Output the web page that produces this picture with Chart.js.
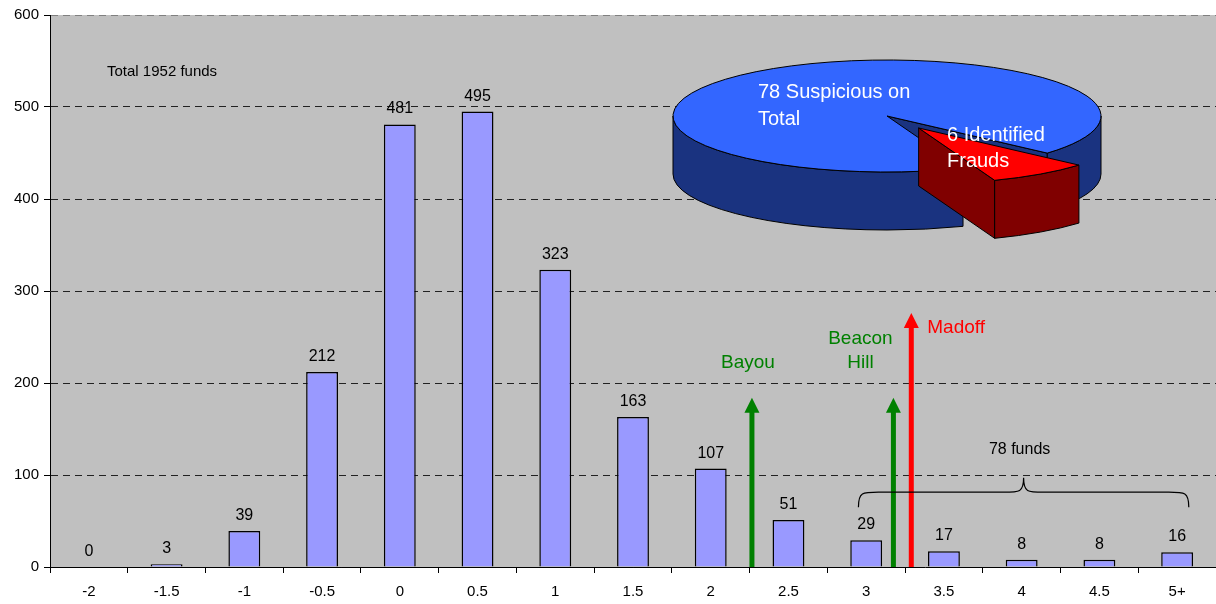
<!DOCTYPE html>
<html>
<head>
<meta charset="utf-8">
<script src="https://cdn.jsdelivr.net/npm/chart.js@4.4.0/dist/chart.umd.min.js"></script>
<style>
  body { margin: 0; background: #fff; }
  #wrap { width: 1216px; height: 604px; }
</style>
</head>
<body>
<div id="wrap"><canvas id="fund_chart"></canvas></div>
<script>
const categories = ['-2', '-1.5', '-1', '-0.5', '0', '0.5', '1', '1.5', '2', '2.5', '3', '3.5', '4', '4.5', '5+'];
const fundCounts = [0, 3, 39, 212, 481, 495, 323, 163, 107, 51, 29, 17, 8, 8, 16];
const yTicks = [0, 100, 200, 300, 400, 500, 600];

const pieLabels = [['78 Suspicious on', 'Total'], ['6 Identified', 'Frauds']];
const pieValues = [72, 6];

const arrowNames = [['Bayou'], ['Beacon', 'Hill'], ['Madoff']];
const arrowIndex = [8.53, 10.35, 10.58];
const arrowValue = [184, 184, 276];
const arrowColors = ['#008000', '#008000', '#ff0000'];

const braceRange = [9.9, 14.15];
const braceValue = [65, 97];
const braceLabel = '78 funds';
const totalLabel = 'Total 1952 funds';

const FONT = '"Liberation Sans", Arial, sans-serif';

// grey plot area
const plotBackground = {
  id: 'plotBackground',
  beforeDraw(chart) {
    let a = chart.chartArea, ctx = chart.ctx;
    ctx.save();
    ctx.fillStyle = '#c0c0c0';
    ctx.fillRect(a.left, a.top, a.right - a.left, a.bottom - a.top);
    ctx.restore();
  }
};

const valueLabels = {
  id: 'valueLabels',
  afterDatasetsDraw(chart) {
    let ctx = chart.ctx;
    let meta = chart.getDatasetMeta(0);
    ctx.save();
    ctx.font = '16px ' + FONT;
    ctx.fillStyle = '#000';
    ctx.textAlign = 'center';
    ctx.textBaseline = 'alphabetic';
    meta.data.forEach((bar, i) => {
      ctx.fillText(String(fundCounts[i]), bar.x, bar.y - 11);
    });
    ctx.restore();
  }
};

function drawArrow(ctx, x, yBase, yTip, color) {
  ctx.fillStyle = color;
  ctx.fillRect(x - 2.5, yTip + 12, 5, yBase - yTip - 12);
  ctx.beginPath();
  ctx.moveTo(x, yTip);
  ctx.lineTo(x + 7.5, yTip + 15);
  ctx.lineTo(x - 7.5, yTip + 15);
  ctx.closePath();
  ctx.fill();
}

const annotations = {
  id: 'annotations',
  afterDatasetsDraw(chart) {
    let ctx = chart.ctx;
    let xs = chart.scales.x, ys = chart.scales.y;
    ctx.save();

    ctx.font = '15px ' + FONT;
    ctx.fillStyle = '#000';
    ctx.textAlign = 'left';
    ctx.fillText(totalLabel, chart.chartArea.left + 57, 76);

    // arrows and their names
    let labelPos = [
      { dx: -4, dy: -30, align: 'center' },
      { dx: -33, dy: -30, align: 'center' },
      { dx: 16, dy: 20, align: 'left' }
    ];
    arrowIndex.forEach((idx, i) => {
      let x = xs.getPixelForValue(idx);
      let yTip = ys.getPixelForValue(arrowValue[i]);
      drawArrow(ctx, x, ys.getPixelForValue(0), yTip, arrowColors[i]);
      ctx.font = '19px ' + FONT;
      ctx.fillStyle = arrowColors[i];
      ctx.textAlign = labelPos[i].align;
      let lines = arrowNames[i];
      lines.forEach((t, k) => {
        let y = yTip + labelPos[i].dy - (lines.length - 1 - k) * 24;
        ctx.fillText(t, x + labelPos[i].dx, y);
      });
    });

    // brace over the right tail
    let x1 = xs.getPixelForValue(braceRange[0]);
    let x2 = xs.getPixelForValue(braceRange[1]);
    let xm = (x1 + x2) / 2;
    let yEnd = ys.getPixelForValue(braceValue[0]);
    let yTop = ys.getPixelForValue(braceValue[1]);
    let yMid = yEnd - 15;
    ctx.strokeStyle = '#000';
    ctx.lineWidth = 1.2;
    ctx.beginPath();
    ctx.moveTo(x1, yEnd);
    ctx.bezierCurveTo(x1, yMid, x1 + 4, yMid, x1 + 20, yMid);
    ctx.lineTo(xm - 20, yMid);
    ctx.bezierCurveTo(xm - 4, yMid, xm, yMid, xm, yTop);
    ctx.bezierCurveTo(xm, yMid, xm + 4, yMid, xm + 20, yMid);
    ctx.lineTo(x2 - 20, yMid);
    ctx.bezierCurveTo(x2 - 4, yMid, x2, yMid, x2, yEnd);
    ctx.stroke();
    ctx.font = '16px ' + FONT;
    ctx.fillStyle = '#000';
    ctx.textAlign = 'center';
    ctx.fillText(braceLabel, xm - 4, yTop - 24);

    ctx.restore();
  }
};

// 3d pie drawn on top of the bars
const pie = { cx: 887, cy: 116, rx: 214, ry: 56, depth: 58, start: 41.5 * Math.PI / 180 };

function drawSlice(ctx, a0, a1, ox, oy, topColor, sideColor) {
  let cx = pie.cx + ox, cy = pie.cy + oy, d = pie.depth;
  let rim = a => [cx + pie.rx * Math.cos(a), cy + pie.ry * Math.sin(a)];
  ctx.lineWidth = 1;
  ctx.strokeStyle = '#000';
  ctx.lineJoin = 'round';

  // cut faces turned towards the viewer
  [[a0, Math.cos(a0) < 0], [a1, Math.cos(a1) > 0]].forEach(([a, vis]) => {
    if (!vis) return;
    let p = rim(a);
    ctx.beginPath();
    ctx.moveTo(cx, cy);
    ctx.lineTo(p[0], p[1]);
    ctx.lineTo(p[0], p[1] + d);
    ctx.lineTo(cx, cy + d);
    ctx.closePath();
    ctx.fillStyle = sideColor;
    ctx.fill();
    ctx.stroke();
  });

  // outer wall, front half only
  [0, 2 * Math.PI].forEach(k => {
    let lo = Math.max(a0, k), hi = Math.min(a1, k + Math.PI);
    if (hi <= lo) return;
    ctx.beginPath();
    ctx.ellipse(cx, cy, pie.rx, pie.ry, 0, lo, hi, false);
    ctx.ellipse(cx, cy + d, pie.rx, pie.ry, 0, hi, lo, true);
    ctx.closePath();
    ctx.fillStyle = sideColor;
    ctx.fill();
    ctx.stroke();
  });

  ctx.beginPath();
  ctx.moveTo(cx, cy);
  ctx.ellipse(cx, cy, pie.rx, pie.ry, 0, a0, a1, false);
  ctx.closePath();
  ctx.fillStyle = topColor;
  ctx.fill();
  ctx.stroke();
}

const pie3d = {
  id: 'pie3d',
  afterDraw(chart) {
    let ctx = chart.ctx;
    let total = pieValues[0] + pieValues[1];
    let redSweep = pieValues[1] / total * 2 * Math.PI;
    let r0 = pie.start, r1 = pie.start + redSweep;
    let mid = (r0 + r1) / 2;
    let ox = pie.rx * 0.26 * Math.cos(mid), oy = pie.ry * 0.26 * Math.sin(mid);
    ctx.save();
    drawSlice(ctx, r1, r0 + 2 * Math.PI, 0, 0, '#3366ff', '#1a3380');
    drawSlice(ctx, r0, r1, ox, oy, '#ff0000', '#800000');

    ctx.font = '20px ' + FONT;
    ctx.fillStyle = '#fff';
    ctx.textAlign = 'left';
    ctx.fillText(pieLabels[0][0], 758, 98);
    ctx.fillText(pieLabels[0][1], 758, 125);
    ctx.fillText(pieLabels[1][0], 947, 141);
    ctx.fillText(pieLabels[1][1], 947, 167);
    ctx.restore();
  }
};

let ctx = document.getElementById('fund_chart');
let fundChart = new Chart(ctx, {
  type: 'bar',
  data: {
    labels: categories,
    datasets: [{
      data: fundCounts,
      backgroundColor: '#9999ff',
      borderColor: '#000',
      borderWidth: 1.5,
      barPercentage: 0.41,
      categoryPercentage: 1
    }]
  },
  options: {
    responsive: true,
    maintainAspectRatio: false,
    animation: false,
    layout: { padding: { top: 15, right: 0, left: 0, bottom: 0 } },
    plugins: {
      legend: { display: false },
      tooltip: { enabled: false }
    },
    scales: {
      x: {
        offset: true,
        afterFit: scale => { scale.height = 37; },
        grid: { offset: true, drawOnChartArea: false, drawTicks: true, tickLength: 6, color: '#000' },
        border: { color: '#000', width: 1 },
        ticks: { color: '#000', font: { family: FONT, size: 15 }, padding: 10, maxRotation: 0 }
      },
      y: {
        min: 0,
        max: 600,
        afterFit: scale => { scale.width = 50; },
        afterBuildTicks: scale => { scale.ticks = yTicks.map(v => ({ value: v })); },
        grid: {
          color: c => (c.tick && c.tick.value === 600 ? '#808080' : '#222'),
          tickColor: '#000',
          tickLength: 6
        },
        border: { color: '#000', width: 1, dash: [7, 5] },
        ticks: { color: '#000', font: { family: FONT, size: 15 }, padding: 5 }
      }
    }
  },
  plugins: [plotBackground, valueLabels, annotations, pie3d]
});
</script>
</body>
</html>
